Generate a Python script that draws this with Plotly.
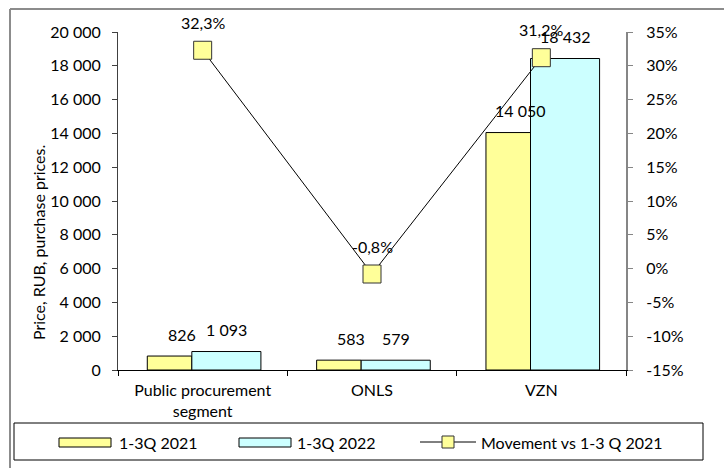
import plotly.graph_objects as go

# Data
categories = ["Public procurement<br>segment", "ONLS", "VZN"]
price_2021 = [826, 583, 14050]
price_2022 = [1093, 579, 18432]
movement_pct = [32.3, -0.8, 31.2]

series_names = ["1-3Q 2021", "1-3Q 2022", "Movement vs 1-3 Q 2021"]
y_title = "Price, RUB, purchase prices."

pct_ticks = [-15, -10, -5, 0, 5, 10, 15, 20, 25, 30, 35]
pct_tick_labels = [f"{t}%" for t in pct_ticks]  # plain hyphen for negatives

YELLOW = "#FFFF99"
CYAN = "#CCFFFF"
FONT = "Lato"
FS = 16

W, H = 724, 468
L, R, T, B = 118, 626, 32, 370  # plot area in pixels


def px(x):
    return (x - L) / (R - L)


def py(y):
    return (B - y) / (B - T)


def fmt_num(v):
    return f"{v:,}".replace(",", " ")


def fmt_pct(v):
    return f"{v:.1f}".replace(".", ",") + "%"


fig = go.Figure()

fig.add_trace(go.Bar(
    x=categories, y=price_2021, name=series_names[0],
    marker=dict(color=YELLOW, line=dict(color="#000000", width=1)),
    width=0.263, offset=-0.327, showlegend=False,
))
fig.add_trace(go.Bar(
    x=categories, y=price_2022, name=series_names[1],
    marker=dict(color=CYAN, line=dict(color="#000000", width=1)),
    width=0.408, offset=-0.064, showlegend=False,
))
fig.add_trace(go.Scatter(
    x=categories, y=movement_pct, name=series_names[2], yaxis="y2",
    mode="lines+markers",
    line=dict(color="#000000", width=1),
    marker=dict(symbol="square", size=18, color=YELLOW,
                line=dict(color="#333333", width=1)),
    showlegend=False,
))

annotations = []
label_font = dict(family=FONT, size=FS, color="#000000")

# value labels above the bars
for cat, v in zip(categories, price_2021):
    annotations.append(dict(x=cat, y=v, xref="x", yref="y", text=fmt_num(v),
                            showarrow=False, xshift=-21, yshift=22,
                            font=label_font))
for cat, v in zip(categories, price_2022):
    annotations.append(dict(x=cat, y=v, xref="x", yref="y", text=fmt_num(v),
                            showarrow=False, xshift=24, yshift=22,
                            font=label_font))
# percentage labels above the markers
for cat, v in zip(categories, movement_pct):
    annotations.append(dict(x=cat, y=v, xref="x", yref="y2", text=fmt_pct(v),
                            showarrow=False, yshift=28, font=label_font))

# rotated y axis title
annotations.append(dict(x=px(38), y=py(243), xref="paper", yref="paper",
                        xanchor="center", yanchor="middle",
                        text=y_title, textangle=-90, showarrow=False,
                        font=label_font))

# legend texts
legend_y = py(442)
for x_left, name in [(117, series_names[0]), (295, series_names[1]),
                     (479, series_names[2])]:
    annotations.append(dict(x=px(x_left), y=legend_y, xref="paper", yref="paper",
                            text=name, showarrow=False, xanchor="left",
                            yanchor="middle", font=label_font))

shapes = [
    # outer frame (left and top edges)
    dict(type="line", xref="paper", yref="paper", x0=px(10), x1=px(10),
         y0=py(9), y1=py(480), line=dict(color="#8c8c8c", width=2)),
    dict(type="line", xref="paper", yref="paper", x0=px(10), x1=px(740),
         y0=py(9), y1=py(9), line=dict(color="#8c8c8c", width=2)),
    # legend box
    dict(type="rect", xref="paper", yref="paper", x0=px(14), x1=px(703),
         y0=py(423), y1=py(460), line=dict(color="#000000", width=1),
         fillcolor="rgba(0,0,0,0)"),
    # legend swatches
    dict(type="rect", xref="paper", yref="paper", x0=px(59), x1=px(111),
         y0=py(438), y1=py(447), line=dict(color="#000000", width=1),
         fillcolor=YELLOW),
    dict(type="rect", xref="paper", yref="paper", x0=px(239), x1=px(291),
         y0=py(438), y1=py(447), line=dict(color="#000000", width=1),
         fillcolor=CYAN),
    dict(type="line", xref="paper", yref="paper", x0=px(420), x1=px(476),
         y0=legend_y, y1=legend_y, line=dict(color="#000000", width=1)),
    dict(type="rect", xref="paper", yref="paper", x0=px(442), x1=px(454),
         y0=py(436), y1=py(448), line=dict(color="#333333", width=1),
         fillcolor=YELLOW),
]

fig.update_layout(
    width=W, height=H,
    margin=dict(l=L, r=W - R, t=T, b=H - B, pad=0),
    paper_bgcolor="#ffffff", plot_bgcolor="#ffffff",
    font=dict(family=FONT, size=FS, color="#000000"),
    separators=", ",
    showlegend=False,
    barmode="overlay",
    xaxis=dict(
        type="category", showgrid=False, zeroline=False,
        showline=True, linecolor="#000000", linewidth=1,
        ticks="outside", ticklen=5, tickcolor="#000000",
        tickson="boundaries", ticklabelstandoff=6,
        tickfont=label_font,
    ),
    yaxis=dict(
        range=[0, 20000], dtick=2000, tickformat=",",
        showgrid=False, zeroline=False,
        showline=True, linecolor="#404040", linewidth=1,
        ticks="outside", ticklen=5, tickcolor="#404040",
        ticklabelstandoff=8, tickfont=label_font,
    ),
    yaxis2=dict(
        range=[-15, 35], tickmode="array",
        tickvals=pct_ticks, ticktext=pct_tick_labels,
        overlaying="y", side="right",
        showgrid=False, zeroline=False,
        showline=True, linecolor="#868686", linewidth=2,
        ticks="outside", ticklen=5, tickcolor="#868686",
        ticklabelstandoff=10, tickfont=label_font,
    ),
    annotations=annotations,
    shapes=shapes,
)

fig.write_html("out.html")
